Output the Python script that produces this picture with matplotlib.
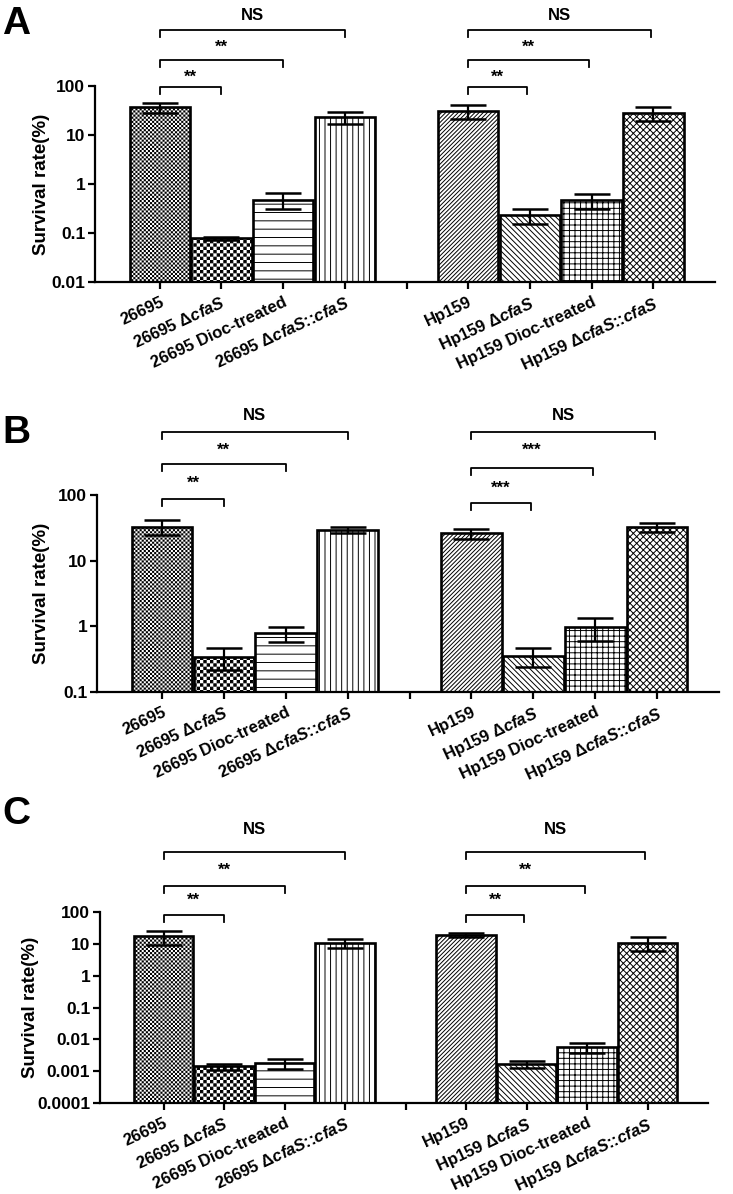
import numpy as np
import matplotlib
matplotlib.use('Agg')
import matplotlib.pyplot as plt
import matplotlib.hatch as mhatch
from matplotlib.path import Path
from matplotlib.ticker import NullLocator, FuncFormatter
import matplotlib.transforms as mtrans

plt.rcParams['font.family'] = ['Liberation Sans', 'DejaVu Sans']
plt.rcParams['font.weight'] = 'bold'
plt.rcParams['mathtext.fontset'] = 'custom'
plt.rcParams['mathtext.rm'] = 'Liberation Sans:bold'
plt.rcParams['mathtext.it'] = 'Liberation Sans:italic:bold'
plt.rcParams['hatch.linewidth'] = 0.7


# checkerboard fill (GraphPad style); takes the place of the 'O' hatch
class Checker(mhatch.HatchPatternBase):
    def __init__(self, hatch, density):
        self.n = hatch.count('O') * density
        self.num_vertices = (self.n * self.n // 2) * 5

    def set_vertices_and_codes(self, vertices, codes):
        n = self.n
        d = 1.0 / n
        ins = plt.rcParams['hatch.linewidth'] / 72 / 2
        k = 0
        for i in range(n):
            for j in range(n):
                if (i + j) % 2 == 0:
                    x0, y0 = i * d + ins, j * d + ins
                    x1, y1 = (i + 1) * d - ins, (j + 1) * d - ins
                    vertices[k:k + 5] = [[x0, y0], [x1, y0], [x1, y1], [x0, y1], [x0, y0]]
                    codes[k:k + 5] = [Path.MOVETO, Path.LINETO, Path.LINETO,
                                      Path.LINETO, Path.CLOSEPOLY]
                    k += 5


mhatch._hatch_types = [t for t in mhatch._hatch_types
                       if t is not mhatch.LargeCircles] + [Checker]

# ---- data ----
labels = ['26695', '26695 Δ$\\mathit{cfaS}$', '26695 Dioc-treated',
          '26695 Δ$\\mathit{cfaS}$::$\\mathit{cfaS}$', '',
          'Hp159', 'Hp159 Δ$\\mathit{cfaS}$', 'Hp159 Dioc-treated',
          'Hp159 Δ$\\mathit{cfaS}$::$\\mathit{cfaS}$']
bar_pos = [0, 1, 2, 3, 5, 6, 7, 8]
hatches = ['OOOOOOOO', 'OOOOO', '--', '|||', '////////', '\\' * 6, '+++', 'xxxxx']

A_mean = [37, 0.078, 0.48, 23, 31, 0.23, 0.47, 28]
A_err = [9, 0.006, 0.17, 6.5, 10, 0.075, 0.16, 9]
B_mean = [33, 0.34, 0.78, 29.5, 26, 0.35, 0.97, 32.5]
B_err = [8.5, 0.12, 0.2, 3, 4.5, 0.11, 0.37, 5]
C_mean = [17, 0.00142, 0.0018, 10.5, 19.5, 0.0017, 0.0056, 11]
C_err = [7.5, 0.0003, 0.0006, 3.3, 3, 0.0004, 0.002, 5]

A_sig = [['**', '**', 'NS'], ['**', '**', 'NS']]
B_sig = [['**', '**', 'NS'], ['***', '***', 'NS']]
C_sig = [['**', '**', 'NS'], ['**', '**', 'NS']]

W, H = 733, 1194
fig = plt.figure(figsize=(W / 100, H / 100), dpi=100)


def make_axes(left, top, width, height):
    return fig.add_axes([left / W, (H - top - height) / H, width / W, height / H])


# panel: (axes box px, log10 ylim, data, sig, bracket levels, text levels, letter, letter baseline, ylabel x)
panels = [
    ((95, 86, 620, 196), (-2, 2), A_mean, A_err, A_sig,
     [(0.995, 0.995), (1.133, 1.133), (1.286, 1.286)],
     [(1.046, 1.046), (1.20, 1.20), (1.362, 1.362)], 'A', 34, 50),
    ((97, 495, 622, 197), (-1, 2), B_mean, B_err, B_sig,
     [(0.98, 0.96), (1.157, 1.137), (1.32, 1.32)],
     [(1.06, 1.035), (1.228, 1.228), (1.406, 1.406)], 'B', 443, 50),
    ((100, 912, 608, 191), (-4, 2), C_mean, C_err, C_sig,
     [(0.984, 0.984), (1.136, 1.136), (1.314, 1.314)],
     [(1.063, 1.063), (1.22, 1.22), (1.43, 1.43)], 'C', 824, 39),
]

for box, ylim, mean, err, sig, blev, tlev, letter, lety, ylx in panels:
    ax = make_axes(*box)
    ax.set_yscale('log')
    for i, x in enumerate(bar_pos):
        ax.bar(x, mean[i], width=0.98, bottom=1e-8, color='white',
               edgecolor='black', linewidth=1.9, hatch=hatches[i], zorder=2)
    ax.errorbar(bar_pos, mean, yerr=err, fmt='none', ecolor='black',
                elinewidth=1.6, capsize=13, capthick=1.8, zorder=3)
    ax.set_ylim(10.0 ** ylim[0], 10.0 ** ylim[1])
    ax.set_yticks(10.0 ** np.arange(ylim[0], ylim[1] + 1))
    ax.yaxis.set_major_formatter(FuncFormatter(lambda v, p: '%g' % v))
    ax.yaxis.set_minor_locator(NullLocator())
    ax.set_xlim(-1.05, 9.0)
    ax.set_xticks(range(9))
    ax.set_xticklabels(labels, rotation=25, ha='right', rotation_mode='anchor',
                       fontsize=12)
    ax.tick_params(axis='y', labelsize=12.5, width=1.6, length=5, pad=2)
    ax.tick_params(axis='x', width=1.6, length=5, pad=4)
    for s in ['top', 'right']:
        ax.spines[s].set_visible(False)
    for s in ['left', 'bottom']:
        ax.spines[s].set_linewidth(1.6)
    ax.set_ylabel('Survival rate(%)', fontsize=13.5, fontweight='bold')
    ax.yaxis.set_label_coords((ylx - box[0]) / box[2], 0.5)

    trans = mtrans.blended_transform_factory(ax.transData, ax.transAxes)
    drop = 7 / box[3]
    for g, start in enumerate([0, 5]):
        for k, end in enumerate([start + 1, start + 2, start + 3]):
            yb = blev[k][g]
            x1 = end - 0.04 * g
            ax.plot([start, start, x1, x1], [yb - drop, yb, yb, yb - drop],
                    color='black', lw=1.3, transform=trans, clip_on=False)
            txt = sig[g][k]
            ax.text((start + x1) / 2, tlev[k][g], txt, transform=trans,
                    ha='center', va='center', fontsize=12, fontweight='bold')

    fig.text(2 / W, 1 - lety / H, letter, fontsize=28, fontweight='bold',
             va='baseline', ha='left')

fig.savefig('out.png', dpi=100)
